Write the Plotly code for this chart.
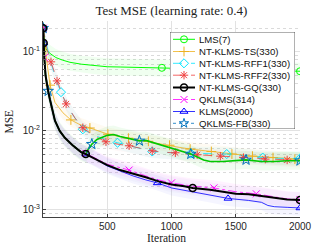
import plotly.graph_objects as go

# ---------------- data ----------------
lms_x = [1, 5, 10, 15, 20, 30, 50, 75, 100, 150, 210, 300, 400, 500, 600, 700, 800, 925, 1050, 1200, 1350, 1500, 1650, 1800, 1900, 2000]
lms_y = [0.20, 0.16, 0.14, 0.118, 0.112, 0.105, 0.097, 0.090, 0.085, 0.079, 0.074, 0.070, 0.067, 0.065, 0.0645, 0.064, 0.0632, 0.063, 0.062, 0.061, 0.060, 0.059, 0.0585, 0.058, 0.0575, 0.057]
lms_m = [1, 925, 2000]

ts_x = [1, 5, 10, 20, 30, 55, 93, 155, 217, 280, 365, 430, 505, 580, 665, 740, 820, 900, 985, 1060, 1145, 1230, 1310, 1390, 1470, 1550, 1630, 1710, 1790, 1870, 1960, 2000]
ts_y = [0.20, 0.17, 0.14, 0.10, 0.075, 0.038, 0.023, 0.017, 0.0138, 0.0122, 0.0109, 0.0099, 0.0091, 0.0086, 0.0081, 0.0077, 0.0074, 0.0070, 0.0066, 0.0062, 0.0059, 0.0057, 0.0055, 0.0053, 0.0051, 0.0049, 0.0048, 0.0047, 0.0046, 0.0045, 0.0044, 0.0044]
ts_m = [1, 55, 217, 365, 505, 665, 820, 985, 1145, 1310, 1470, 1630, 1790, 1960]

rff1_x = [1, 10, 30, 60, 100, 140, 200, 250, 310, 400, 500, 580, 700, 850, 1000, 1150, 1300, 1430, 1600, 1710, 1850, 2000]
rff1_y = [0.20, 0.16, 0.12, 0.075, 0.045, 0.031, 0.019, 0.0145, 0.0105, 0.0088, 0.0076, 0.0071, 0.0064, 0.0055, 0.0053, 0.0052, 0.0052, 0.0051, 0.0048, 0.0046, 0.0045, 0.0045]
rff1_m = [1, 140, 310, 580, 850, 1150, 1430, 1710, 2000]

rff2_x = [1, 10, 30, 62, 109, 145, 180, 250, 310, 400, 490, 580, 670, 760, 850, 940, 1030, 1120, 1200, 1290, 1380, 1470, 1560, 1640, 1730, 1820, 1900, 2000]
rff2_y = [0.20, 0.16, 0.11, 0.075, 0.043, 0.030, 0.022, 0.0145, 0.011, 0.0086, 0.0073, 0.0068, 0.0065, 0.0060, 0.0056, 0.0054, 0.0053, 0.0051, 0.0050, 0.0049, 0.0048, 0.0047, 0.0046, 0.0045, 0.0044, 0.0043, 0.0043, 0.0042]
rff2_m = [1, 62, 109, 180, 310, 490, 670, 850, 1030, 1200, 1380, 1560, 1730, 1900]

gq_x = [1, 5, 10, 20, 30, 40, 54, 70, 93, 130, 170, 230, 296, 333, 400, 500, 600, 700, 800, 900, 1000, 1100, 1165, 1300, 1400, 1500, 1600, 1700, 1800, 1900, 2000]
gq_y = [0.20, 0.13, 0.085, 0.05, 0.039, 0.032, 0.025, 0.019, 0.0135, 0.0100, 0.0082, 0.0066, 0.0054, 0.0051, 0.0045, 0.0037, 0.0032, 0.0029, 0.0026, 0.0023, 0.0021, 0.0020, 0.0019, 0.0018, 0.0017, 0.0016, 0.00158, 0.0015, 0.00142, 0.00136, 0.00134]
gq_m = [1, 5, 333, 1165, 2000]

qk_x = [1, 5, 10, 20, 30, 40, 54, 70, 93, 130, 170, 230, 296, 333, 400, 500, 580, 670, 800, 900, 1000, 1165, 1330, 1500, 1660, 1800, 1900, 2000]
qk_y = [0.20, 0.13, 0.085, 0.05, 0.039, 0.032, 0.025, 0.019, 0.0135, 0.0100, 0.0082, 0.0066, 0.0055, 0.0052, 0.0046, 0.0038, 0.0035, 0.0032, 0.0027, 0.0024, 0.0022, 0.0020, 0.0019, 0.0017, 0.0016, 0.00145, 0.00138, 0.00135]
qk_m = [1, 10, 333, 670, 1000, 1330, 1660, 2000]

klms_x = [1, 5, 10, 20, 30, 40, 54, 70, 93, 130, 170, 230, 296, 333, 400, 500, 600, 700, 800, 890, 1000, 1165, 1300, 1440, 1600, 1700, 1750, 1800, 1900, 2000]
klms_y = [0.20, 0.13, 0.085, 0.05, 0.039, 0.032, 0.025, 0.019, 0.0135, 0.0100, 0.0082, 0.0066, 0.0054, 0.0051, 0.0045, 0.0036, 0.0031, 0.0027, 0.0024, 0.0022, 0.0019, 0.0017, 0.00155, 0.0014, 0.00132, 0.00125, 0.00114, 0.0011, 0.00108, 0.00106]
klms_m = [1, 5, 333, 890, 1440, 2000]

fb_x = [1, 5, 10, 20, 30, 40, 54, 70, 93, 130, 170, 230, 296, 333, 350, 380, 420, 500, 550, 600, 700, 750, 800, 900, 1000, 1100, 1150, 1250, 1300, 1400, 1500, 1580, 1700, 1800, 1900, 2000]
fb_y = [0.20, 0.13, 0.085, 0.05, 0.039, 0.032, 0.025, 0.019, 0.0135, 0.0100, 0.0082, 0.0066, 0.0054, 0.0051, 0.0058, 0.0068, 0.0078, 0.0088, 0.0090, 0.0085, 0.0078, 0.0075, 0.0076, 0.0068, 0.0060, 0.0054, 0.0051, 0.0043, 0.0041, 0.0041, 0.0042, 0.0043, 0.0041, 0.0041, 0.0042, 0.0042]
fb_m = [1, 40, 380, 750, 1150, 1580, 2000]

names = ["LMS(7)", "NT-KLMS-TS(330)", "NT-KLMS-RFF1(330)", "NT-KLMS-RFF2(330)",
         "NT-KLMS-GQ(330)", "QKLMS(314)", "KLMS(2000)", "QKLMS-FB(330)"]

x_ticks = [500, 1000, 1500, 2000]
y_ticks = [1e-3, 1e-2, 1e-1]
y_tick_text = ["10<sup>-3</sup>", "10<sup>-2</sup>", "10<sup>-1</sup>"]
y_minor = [m * 10.0 ** e for e in (-4, -3, -2, -1) for m in range(2, 10)]

# ---------------- styles ----------------
series = [
    # x, y, markers, line color, marker color, width, dash, symbol, band rgba, band spread
    (lms_x, lms_y, lms_m, "#00ff00", "#00ff00", 1.0, "solid", "circle-open", "rgba(0,255,0,0.06)", 0.28),
    (ts_x, ts_y, ts_m, "#edb120", "#edb120", 0.8, "solid", "cross-thin-open", "rgba(237,177,32,0.06)", 0.22),
    (rff1_x, rff1_y, rff1_m, "#00e5ff", "#00e5ff", 0.8, "dash", "diamond-open", "rgba(0,229,255,0.05)", 0.22),
    (rff2_x, rff2_y, rff2_m, "#f04040", "#f04040", 0.8, "dash", "asterisk-open", "rgba(240,64,64,0.04)", 0.22),
    (klms_x, klms_y, klms_m, "#0000ff", "#0000ff", 0.8, "solid", "triangle-up-open", "rgba(90,90,255,0.06)", 0.25),
    (qk_x, qk_y, qk_m, "#ff00ff", "#ff00ff", 0.8, "dashdot", "x-thin-open", "rgba(255,0,255,0.05)", 0.25),
    (fb_x, fb_y, fb_m, "#00c800", "#0072bd", 1.6, "solid", "star-open", "rgba(0,200,0,0.06)", 0.30),
    (gq_x, gq_y, gq_m, "#000000", "#000000", 2.0, "solid", "circle-open", "rgba(140,140,220,0.05)", 0.25),
]

fig = go.Figure()

# uncertainty bands
for sx, sy, sm, lc, mc, w, d, sym, band, k in series:
    up = [v * (1 + k) for v in sy]
    lo = [v / (1 + k) for v in sy]
    fig.add_trace(go.Scatter(x=list(sx) + list(sx)[::-1], y=up + lo[::-1], fill="toself",
                             fillcolor=band, line=dict(width=0), mode="lines",
                             hoverinfo="skip", showlegend=False))

# lines and markers
for sx, sy, sm, lc, mc, w, d, sym, band, k in series:
    fig.add_trace(go.Scatter(x=sx, y=sy, mode="lines", line=dict(color=lc, width=w, dash=d),
                             showlegend=False))
    my = [sy[sx.index(m)] for m in sm]
    fig.add_trace(go.Scatter(x=sm, y=my, mode="markers",
                             marker=dict(symbol=sym, size=7 if sym != "star-open" else 8,
                                         color=mc, line=dict(width=1.0 if w < 2 else 1.6, color=mc)),
                             showlegend=False))

# ---------------- hand-drawn legend (on a pixel-scaled overlay axis) ----------------
leg_rows = [39.3, 51.5, 63.3, 75.2, 87.5, 99.5, 111.5, 123.3]
leg_style = [
    ("#00ff00", 1.0, "solid", "circle-open", "#00ff00"),
    ("#edb120", 0.8, "solid", "cross-thin-open", "#edb120"),
    ("#00e5ff", 0.8, "dash", "diamond-open", "#00e5ff"),
    ("#f04040", 0.8, "dash", "asterisk-open", "#f04040"),
    ("#000000", 2.0, "solid", "circle-open", "#000000"),
    ("#ff00ff", 0.8, "dashdot", "x-thin-open", "#ff00ff"),
    ("#0000ff", 0.8, "solid", "triangle-up-open", "#0000ff"),
    ("#0072bd", 0.8, "dot", "star-open", "#0072bd"),
]
for ry, (lc, w, d, sym, mc), nm in zip(leg_rows, leg_style, names):
    fig.add_trace(go.Scatter(x=[173, 195], y=[ry, ry], mode="lines", xaxis="x2", yaxis="y2",
                             line=dict(color=lc, width=w, dash=d), showlegend=False, hoverinfo="skip"))
    fig.add_trace(go.Scatter(x=[184], y=[ry], mode="markers", xaxis="x2", yaxis="y2",
                             marker=dict(symbol=sym, size=7, color=mc,
                                         line=dict(width=1.0 if w < 2 else 1.6, color=mc)),
                             showlegend=False, hoverinfo="skip"))
    fig.add_annotation(x=197, y=ry, xref="x2", yref="y2", text=nm, showarrow=False,
                       xanchor="left", yanchor="middle",
                       font=dict(family="Liberation Sans", size=9.6, color="#111111"))
fig.add_shape(type="rect", xref="x2", yref="y2", x0=170, x1=295, y0=32, y1=129,
              line=dict(color="#3a3a3a", width=0.8), fillcolor="rgba(0,0,0,0)")

grid_major = "#e2e2e2"
grid_minor = "#dadada"
fig.update_layout(
    width=332, height=249,
    margin=dict(l=43, r=32, t=21, b=32),
    paper_bgcolor="white", plot_bgcolor="white",
    showlegend=False,
    title=dict(text="Test MSE (learning rate: 0.4)", x=0.5165, xanchor="center",
               y=1 - 10 / 249, yanchor="middle",
               font=dict(family="Liberation Serif", size=13, color="#222222")),
    xaxis=dict(range=[0, 2000], tickvals=x_ticks, ticktext=[str(v) for v in x_ticks],
               showgrid=True, gridcolor=grid_major, gridwidth=1,
               showline=True, linecolor="#404040", linewidth=1, mirror=False,
               ticks="inside", ticklen=3, tickcolor="#404040", zeroline=False,
               tickfont=dict(family="Liberation Sans", size=10, color="#262626")),
    yaxis=dict(type="log", range=[-3.089, -0.608], tickvals=y_ticks, ticktext=y_tick_text,
               showgrid=True, gridcolor=grid_major, gridwidth=1,
               showline=True, linecolor="#404040", linewidth=1, mirror=False,
               ticks="inside", ticklen=3, tickcolor="#404040", zeroline=False,
               tickfont=dict(family="Liberation Sans", size=10, color="#262626"),
               minor=dict(tickvals=y_minor, ticks="inside", ticklen=2, tickcolor="#606060",
                          showgrid=True, gridcolor=grid_minor, griddash="dot", gridwidth=1)),
    xaxis2=dict(domain=[(170 - 43) / 257, (295 - 43) / 257], range=[170, 295], anchor="y2",
                visible=False, fixedrange=True),
    yaxis2=dict(domain=[(217 - 129) / 196, (217 - 32) / 196], range=[129, 32], anchor="x2",
                visible=False, fixedrange=True),
)
fig.add_annotation(x=(166 - 43) / 257, y=(217 - 238) / 196, xref="paper", yref="paper",
                   text="Iteration", showarrow=False, xanchor="center", yanchor="middle",
                   font=dict(family="Liberation Serif", size=11.5, color="#222222"))
fig.add_annotation(x=(8.5 - 43) / 257, y=(217 - 122) / 196, xref="paper", yref="paper",
                   text="MSE", showarrow=False, textangle=-90, xanchor="center", yanchor="middle",
                   font=dict(family="Liberation Serif", size=11.5, color="#222222"))

fig.write_html("out.html", config={"displayModeBar": False},
               post_script="document.body.style.margin='0px';")
